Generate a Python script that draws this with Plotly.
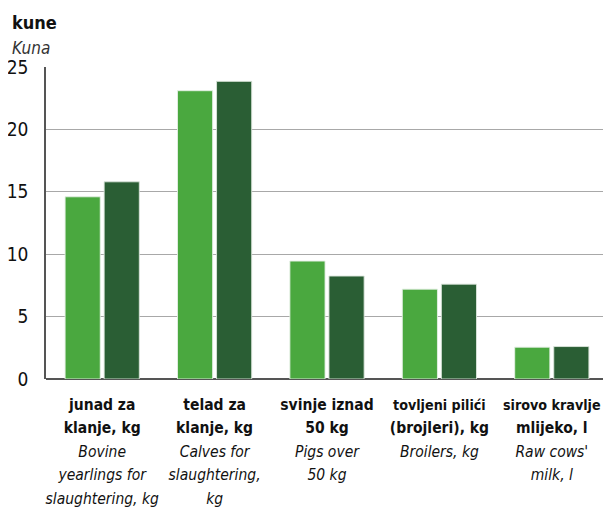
import plotly.graph_objects as go

cat_bold = [
    ["junad za", "klanje, kg"],
    ["telad za", "klanje, kg"],
    ["svinje iznad", "50 kg"],
    ["tovljeni pilići", "(brojleri), kg"],
    ["sirovo kravlje", "mlijeko, l"],
]
cat_italic = [
    ["Bovine", "yearlings for", "slaughtering, kg"],
    ["Calves for", "slaughtering,", "kg"],
    ["Pigs over", "50 kg"],
    ["Broilers, kg"],
    ["Raw cows'", "milk, l"],
]
series_a = [14.6, 23.1, 9.45, 7.2, 2.55]
series_b = [15.8, 23.85, 8.25, 7.6, 2.6]
y_ticks = [0, 5, 10, 15, 20, 25]

FONT = "DejaVu Sans Condensed, Liberation Sans, sans-serif"


def span(text, size, tag):
    return f'<span style="font-size:{size}px"><{tag}>{text}</{tag}></span>'


def make_label(bold_lines, italic_lines):
    parts = []
    for t in bold_lines:
        size = 14.2 if len(t) > 13 and "(" not in t else 15.5
        parts.append(span(t, size, "b"))
    parts += [span(t, 15.5, "i") for t in italic_lines]
    return "<br>".join(parts)


categories = [make_label(b, i) for b, i in zip(cat_bold, cat_italic)]

fig = go.Figure()
fig.add_trace(go.Bar(x=categories, y=series_a, marker=dict(color="#4aa83f",
                     line=dict(color="rgba(230,240,230,0.9)", width=1)), showlegend=False))
fig.add_trace(go.Bar(x=categories, y=series_b, marker=dict(color="#2a5e34",
                     line=dict(color="rgba(220,230,220,0.9)", width=1)), showlegend=False))

# the page places the figure 8px in from the top-left, so size it to the visible area
OFF = 8
W, H = 611 - OFF, 508 - OFF
ML, MR, MT, MB = 46 - OFF, 3, 67 - OFF, 129

fig.update_layout(
    width=W, height=H,
    margin=dict(l=ML, r=MR, t=MT, b=MB),
    barmode="group", bargap=0.305, bargroupgap=0.1,
    plot_bgcolor="white", paper_bgcolor="white",
    font=dict(family=FONT, color="#111", size=18),
    xaxis=dict(showgrid=False, showline=False, zeroline=False, tickangle=0,
               tickfont=dict(size=18, family=FONT, color="#111"),
               ticks="", ticklabelstandoff=12, automargin=False),
    yaxis=dict(range=[0, 25], tickvals=y_ticks, showgrid=True,
               gridcolor="#a8a8a8", gridwidth=1,
               zeroline=True, zerolinecolor="#555", zerolinewidth=2,
               showline=True, linecolor="#555", linewidth=1.5,
               ticks="", ticklabelstandoff=12, automargin=False,
               tickfont=dict(size=19, family=FONT, color="#111")),
)

plot_w = W - ML - MR
plot_h = H - MT - MB


def px_to_paper(px_x, px_y):
    fx, fy = px_x - OFF, px_y - OFF
    return (fx - ML) / plot_w, (H - MB - fy) / plot_h


for txt, px, py, size, col in [("<b>kune</b>", 10, 22, 18, "#111"),
                               ("<i>Kuna</i>", 10, 48, 17, "#333")]:
    ax, ay = px_to_paper(px, py)
    fig.add_annotation(text=txt, x=ax, y=ay, xref="paper", yref="paper",
                       showarrow=False, xanchor="left", yanchor="middle",
                       font=dict(size=size, family=FONT, color=col))

fig.write_html("out.html")
